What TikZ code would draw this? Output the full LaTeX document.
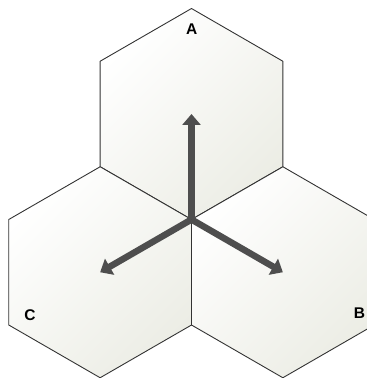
\documentclass[tikz,border=0pt]{standalone}
\usepackage{fontspec}
\setmainfont{Liberation Sans}
\usetikzlibrary{calc}
\usetikzlibrary{arrows.meta}
\definecolor{hexfill}{RGB}{236,237,229}
\definecolor{arrowgray}{RGB}{78,78,78}
\tikzset{
  hexcell/.style={draw=black!80, line width=0.9pt, line join=round,
    top color=white, bottom color=hexfill, shading angle=45},
  vecarrow/.style={draw=arrowgray, line width=6.5pt,
    -{Triangle[length=11pt, width=18pt]}},
  hexlabel/.style={font=\bfseries\fontsize{15.5}{15.5}\selectfont}
}

\begin{document}
\begin{tikzpicture}[x=1pt,y=1pt]
\def\s{105.5}
\useasboundingbox (0,0) rectangle (367,378);
\clip (0,0) rectangle (367,378);

\coordinate (O) at (191.5,158.5);
\coordinate (cA) at ($(O)+(90:\s)$);
\coordinate (cB) at ($(O)+(-30:\s)$);
\coordinate (cC) at ($(O)+(210:\s)$);

\foreach \c in {cA,cB,cC}
  \draw[hexcell] ($(\c)+(90:\s)$)
    \foreach \a in {150,210,...,390} { -- ($(\c)+(\a:\s)$) } -- cycle;

\draw[vecarrow] (O) -- (cA);
\draw[vecarrow] (O) -- (cB);
\draw[vecarrow] (O) -- (cC);

\node[hexlabel] (lA) at (191.7,348.5) {A};
\node[hexlabel] (lB) at (359.5,64.5) {B};
\node[hexlabel] (lC) at (30,63) {C};
\end{tikzpicture}
\end{document}
